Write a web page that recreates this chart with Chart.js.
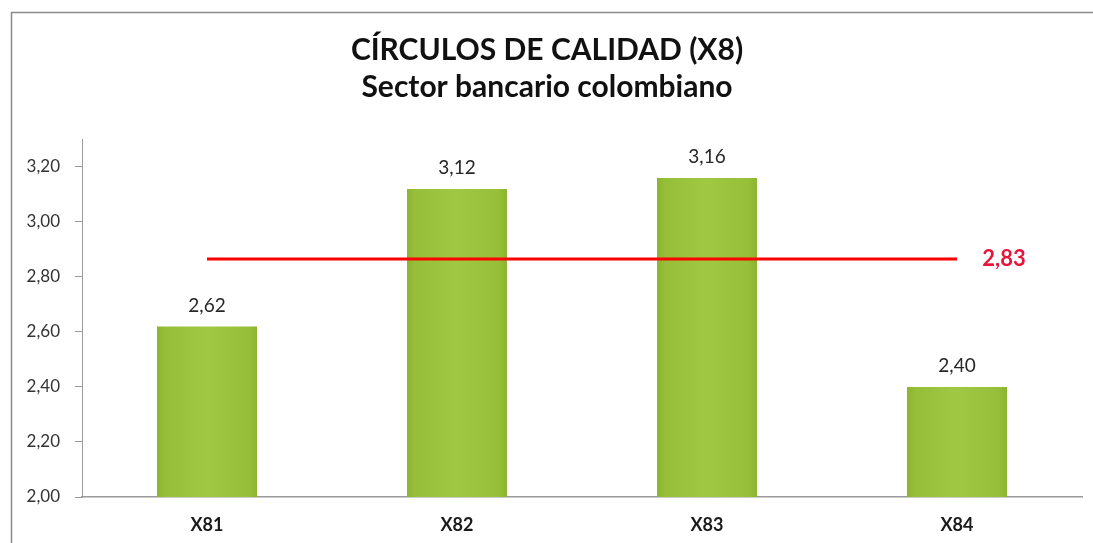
<!DOCTYPE html>
<html>
<head>
<meta charset="utf-8">
<script src="https://cdn.jsdelivr.net/npm/chart.js@4/dist/chart.umd.min.js"></script>
<style>
  html, body { margin: 0; padding: 0; background: #fff; }
  #wrap { width: 1093px; height: 543px; position: relative; }
</style>
</head>
<body>
<div id="wrap"><canvas id="c" width="1093" height="543"></canvas></div>
<script>
// ---- data ----
const categories = ['X81', 'X82', 'X83', 'X84'];
const values = [2.62, 3.12, 3.16, 2.40];
const valueLabels = ['2,62', '3,12', '3,16', '2,40'];
const meanLine = [2.865, 2.865, 2.865, 2.865];
const meanLabel = '2,83';
const titleLines = ['CÍRCULOS DE CALIDAD (X8)', 'Sector bancario colombiano'];
const yMin = 2.0, yMax = 3.3, yStep = 0.2;

const FONT = 'Lato, "Open Sans", sans-serif';

function barGradient(context) {
  const chart = context.chart;
  const area = chart.chartArea;
  if (!area) return '#9AC23C';
  const xs = chart.scales.x;
  const idx = context.dataIndex;
  const cx = xs.getPixelForValue(idx);
  const w = (area.right - area.left) / categories.length * 0.4;
  const g = chart.ctx.createLinearGradient(cx - w / 2, 0, cx + w / 2, 0);
  g.addColorStop(0, '#8CB431');
  g.addColorStop(0.08, '#96BE38');
  g.addColorStop(0.5, '#A0C843');
  g.addColorStop(0.92, '#96BE38');
  g.addColorStop(1, '#8CB431');
  return g;
}

const framePlugin = {
  id: 'frame',
  beforeDraw(chart) {
    const ctx = chart.ctx;
    ctx.save();
    ctx.fillStyle = '#fff';
    ctx.fillRect(0, 0, chart.width, chart.height);
    ctx.strokeStyle = '#8a8a8a';
    ctx.lineWidth = 1.5;
    ctx.beginPath();
    ctx.moveTo(11.5, chart.height);
    ctx.lineTo(11.5, 12.5);
    ctx.lineTo(chart.width, 12.5);
    ctx.stroke();
    ctx.restore();
  }
};

const labelPlugin = {
  id: 'valueLabels',
  afterDatasetsDraw(chart) {
    const ctx = chart.ctx;
    ctx.save();
    const barMeta = chart.getDatasetMeta(1);
    ctx.font = '19px ' + FONT;
    ctx.fillStyle = '#262626';
    ctx.textAlign = 'center';
    ctx.textBaseline = 'middle';
    barMeta.data.forEach((el, i) => {
      ctx.fillText(valueLabels[i], el.x, el.y - 21);
    });
    const lineMeta = chart.getDatasetMeta(0);
    const last = lineMeta.data[lineMeta.data.length - 1];
    ctx.font = 'bold 22px ' + FONT;
    ctx.fillStyle = '#E5183C';
    ctx.textAlign = 'center';
    ctx.fillText(meanLabel, last.x + 47, last.y);
    ctx.restore();
  }
};

new Chart(document.getElementById('c'), {
  data: {
    labels: categories,
    datasets: [
      {
        type: 'line',
        data: meanLine,
        borderColor: '#FF0000',
        borderWidth: 3,
        pointRadius: 0,
        fill: false,
        order: 0
      },
      {
        type: 'bar',
        data: values,
        backgroundColor: barGradient,
        borderWidth: 0,
        barPercentage: 0.4,
        categoryPercentage: 1.0,
        order: 1
      }
    ]
  },
  options: {
    responsive: false,
    animation: false,
    devicePixelRatio: 1,
    layout: { padding: { left: 12, right: 11, top: 0, bottom: 0 } },
    plugins: {
      legend: { display: false },
      tooltip: { enabled: false },
      title: {
        display: true,
        text: titleLines,
        color: '#111',
        font: { family: FONT, size: 30, weight: 'bold', lineHeight: 1.233 },
        padding: { top: 32, bottom: 33.5 }
      }
    },
    scales: {
      x: {
        grid: { display: false, drawTicks: false },
        border: { display: true, color: '#9a9a9a', width: 1.5 },
        ticks: { color: '#1a1a1a', font: { family: FONT, size: 18, weight: 'bold' }, padding: 17 },
        afterFit(scale) { scale.height = 46; }
      },
      y: {
        min: yMin,
        max: yMax,
        grid: { drawOnChartArea: false, drawTicks: true, tickLength: 7, color: '#9a9a9a' },
        border: { display: true, color: '#9a9a9a', width: 1 },
        ticks: {
          stepSize: yStep,
          includeBounds: false,
          padding: 15,
          color: '#333',
          font: { family: FONT, size: 17 },
          callback: v => v.toFixed(2).replace('.', ',')
        },
        afterFit(scale) { scale.width = 70; }
      }
    }
  },
  plugins: [framePlugin, labelPlugin]
});
</script>
</body>
</html>
